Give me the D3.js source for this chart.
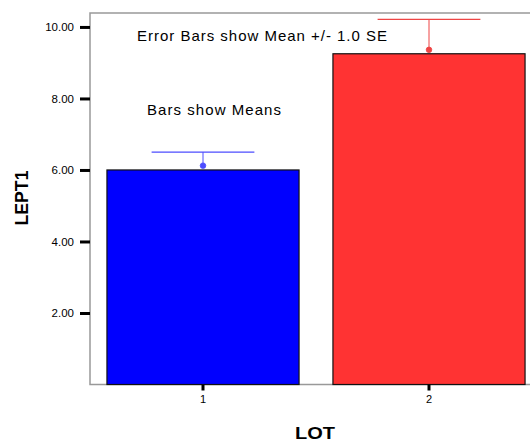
<!DOCTYPE html>
<html><head><meta charset="utf-8">
<script src="https://cdn.jsdelivr.net/npm/d3@7"></script>
<style>body{margin:0;background:#fff;}svg{display:block;}</style>
</head><body>
<script>
const categories = ["1", "2"];
const means = [6.00, 9.25];
const pointMeans = [6.12, 9.36];
const upperSE = [6.50, 10.21];
const barColors = ["#0000ff", "#ff3333"];
const errColors = ["#4d4dff", "#ee4444"];
const yTicks = [2, 4, 6, 8, 10];

(function () {
const W = 530, H = 442;
const svg = d3.select("body").append("svg").attr("width", W).attr("height", H);
const pL = 90, pR = 542, pT = 13, pB = 384.5;

const x = d3.scaleBand().domain(categories).range([pL, pR]).paddingInner(0.15).paddingOuter(0.075);
const y = d3.scaleLinear().domain([0, 10.39]).range([pB, pT]);

// frame
svg.append("rect").attr("x", pL).attr("y", pT).attr("width", pR - pL).attr("height", pB - pT)
  .attr("fill", "none").attr("stroke", "#999").attr("stroke-width", 1.5);

// bars
svg.selectAll("rect.bar").data(categories).enter().append("rect").attr("class", "bar")
  .attr("x", d => x(d)).attr("width", x.bandwidth())
  .attr("y", (d, i) => y(means[i])).attr("height", (d, i) => pB - y(means[i]))
  .attr("fill", (d, i) => barColors[i]).attr("stroke", "#111").attr("stroke-width", 1.2);

// error bars
categories.forEach((c, i) => {
  const cx = x(c) + x.bandwidth() / 2;
  const cap = x.bandwidth() * 0.535;
  svg.append("line").attr("x1", cx).attr("x2", cx).attr("y1", y(pointMeans[i])).attr("y2", y(upperSE[i]))
    .attr("stroke", errColors[i]).attr("stroke-width", 1);
  svg.append("line").attr("x1", cx - cap / 2).attr("x2", cx + cap / 2).attr("y1", y(upperSE[i])).attr("y2", y(upperSE[i]))
    .attr("stroke", errColors[i]).attr("stroke-width", 1.2);
  svg.append("circle").attr("cx", cx).attr("cy", y(pointMeans[i])).attr("r", 2.8)
    .attr("fill", errColors[i]).attr("stroke", errColors[i]).attr("stroke-width", 0.8);
});

const font = "Arial, 'Liberation Sans', sans-serif";
// y axis
const yAxis = svg.append("g").attr("transform", `translate(${pL},0)`)
  .call(d3.axisLeft(y).tickValues(yTicks).tickFormat(d3.format(".2f")).tickSize(10).tickPadding(6));
yAxis.select(".domain").remove();
yAxis.selectAll(".tick line").attr("stroke", "#000").attr("stroke-width", 3);
yAxis.selectAll(".tick text").attr("font-family", font).attr("font-size", 11.5).attr("fill", "#000");

// x axis
const xAxis = svg.append("g").attr("transform", `translate(0,${pB})`)
  .call(d3.axisBottom(x).tickSize(6).tickPadding(5));
xAxis.select(".domain").remove();
xAxis.selectAll(".tick line").attr("stroke", "#000").attr("stroke-width", 3);
xAxis.selectAll(".tick text").attr("font-family", font).attr("font-size", 11).attr("fill", "#000");

// annotations
svg.append("text").attr("x", 137).attr("y", 41).text("Error Bars show Mean +/- 1.0 SE")
  .attr("font-family", font).attr("font-size", 15).attr("fill", "#000")
  .attr("textLength", 250).attr("lengthAdjust", "spacing");
svg.append("text").attr("x", 147).attr("y", 115).text("Bars show Means")
  .attr("font-family", font).attr("font-size", 15).attr("fill", "#000")
  .attr("textLength", 134).attr("lengthAdjust", "spacing");

// axis titles
svg.append("text").attr("transform", "translate(28,198) rotate(-90)").attr("text-anchor", "middle")
  .text("LEPT1").attr("font-family", font).attr("font-weight", "bold").attr("font-size", 18)
  .attr("textLength", 55).attr("lengthAdjust", "spacingAndGlyphs");
svg.append("text").attr("x", 315).attr("y", 439).attr("text-anchor", "middle")
  .text("LOT").attr("font-family", font).attr("font-weight", "bold").attr("font-size", 17)
  .attr("textLength", 40).attr("lengthAdjust", "spacingAndGlyphs");
})();
</script>
</body></html>
